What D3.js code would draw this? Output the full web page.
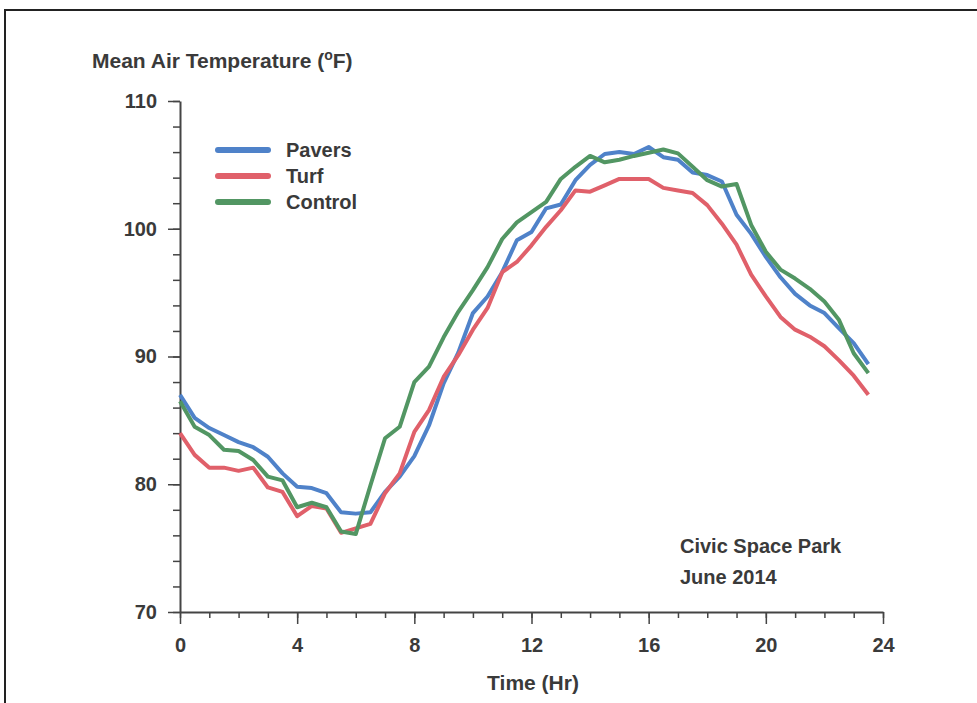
<!DOCTYPE html>
<html><head><meta charset="utf-8">
<script src="https://cdn.jsdelivr.net/npm/d3@7"></script>
<style>
html,body{margin:0;padding:0;background:#fff;}
svg{display:block;}
text{font-family:"Liberation Sans",Arial,sans-serif;font-weight:bold;fill:#3a3a3a;}
</style></head>
<body>
<svg id="chart" width="977" height="703"></svg>
<script>
const hours = d3.range(0, 24, 0.5);
const pavers = [87.0,85.2,84.4,83.85,83.3,82.9,82.15,80.85,79.8,79.7,79.3,77.8,77.7,77.8,79.4,80.6,82.2,84.6,87.9,90.3,93.4,94.7,96.6,99.1,99.75,101.6,101.9,103.8,105.0,105.85,106.0,105.85,106.4,105.6,105.4,104.4,104.2,103.7,101.1,99.6,97.8,96.2,94.9,94.0,93.4,92.2,91.05,89.4];
const turf = [84.0,82.3,81.3,81.3,81.05,81.3,79.75,79.4,77.5,78.3,78.1,76.2,76.55,76.9,79.3,80.85,84.1,85.8,88.4,90.1,92.1,93.8,96.6,97.4,98.7,100.15,101.45,103.0,102.9,103.4,103.9,103.9,103.9,103.2,103.0,102.8,101.85,100.4,98.75,96.4,94.7,93.1,92.1,91.55,90.8,89.7,88.5,87.0];
const control = [86.5,84.5,83.85,82.7,82.6,81.9,80.6,80.3,78.2,78.55,78.2,76.3,76.1,79.9,83.6,84.5,88.0,89.2,91.5,93.5,95.2,97.0,99.2,100.5,101.3,102.1,103.9,104.85,105.7,105.2,105.4,105.7,105.95,106.2,105.9,104.85,103.8,103.3,103.5,100.3,98.2,96.8,96.1,95.3,94.3,92.85,90.25,88.7];
const seriesNames = ["Pavers","Turf","Control"];
const seriesColors = ["#4f82c9","#e0606a","#529663"];
const xMajorTicks = [0,4,8,12,16,20,24];
const yMajorTicks = [70,80,90,100,110];
const yTitle = "Mean Air Temperature (";
const xTitle = "Time (Hr)";
const noteLines = ["Civic Space Park","June 2014"];

const svg = d3.select("#chart");
const x = d3.scaleLinear().domain([0,24]).range([180,883]);
const y = d3.scaleLinear().domain([70,110]).range([612,101]);

// frame
svg.append("path").attr("d","M5,703 L5,10 L977,10").attr("fill","none").attr("stroke","#222").attr("stroke-width",2);

const axisColor = "#444";
const gyMinor = svg.append("g").attr("transform","translate(180,0)")
  .call(d3.axisLeft(y).tickValues(d3.range(70,111,2)).tickSize(7).tickFormat(""));
const gy = svg.append("g").attr("transform","translate(180,0)")
  .call(d3.axisLeft(y).tickValues(yMajorTicks).tickSize(12).tickSizeOuter(0).tickPadding(11));
const gxMinor = svg.append("g").attr("transform","translate(0,612)")
  .call(d3.axisBottom(x).tickValues(d3.range(0,25,1)).tickSize(6).tickFormat(""));
const gx = svg.append("g").attr("transform","translate(0,612)")
  .call(d3.axisBottom(x).tickValues(xMajorTicks).tickSize(12).tickSizeOuter(0).tickPadding(14));
[gyMinor,gy,gxMinor,gx].forEach(g=>{
  g.selectAll("path").attr("stroke",axisColor).attr("stroke-width",2);
  g.selectAll("line").attr("stroke",axisColor).attr("stroke-width",1.5);
  g.selectAll("text").attr("font-family","Liberation Sans, Arial, sans-serif").attr("font-weight","bold").attr("font-size",20).attr("fill","#3a3a3a");
});
gyMinor.select(".domain").remove();
gxMinor.select(".domain").remove();

const t = svg.append("text").attr("x",92).attr("y",68).attr("font-size",21);
t.append("tspan").text(yTitle);
t.append("tspan").attr("dy",-8).attr("font-size",14).text("o");
t.append("tspan").attr("dy",8).text("F)");
svg.append("text").attr("x",533).attr("y",690).attr("text-anchor","middle").attr("font-size",21).text(xTitle);

const data = [pavers,turf,control];
const line = d3.line().x((d,i)=>x(hours[i])).y(d=>y(d));
data.forEach((s,k)=>{
  svg.append("path").datum(s).attr("d",line).attr("fill","none")
    .attr("stroke",seriesColors[k]).attr("stroke-width",4).attr("stroke-linejoin","round");
});

seriesNames.forEach((n,k)=>{
  const yy = 150 + k*26;
  svg.append("line").attr("x1",218).attr("x2",268).attr("y1",yy).attr("y2",yy)
    .attr("stroke",seriesColors[k]).attr("stroke-width",6).attr("stroke-linecap","round");
  svg.append("text").attr("x",286).attr("y",yy+7).attr("font-size",20).text(n);
});

noteLines.forEach((s,i)=>{
  svg.append("text").attr("x",680).attr("y",553+i*31).attr("font-size",20).text(s);
});
</script>
</body></html>
